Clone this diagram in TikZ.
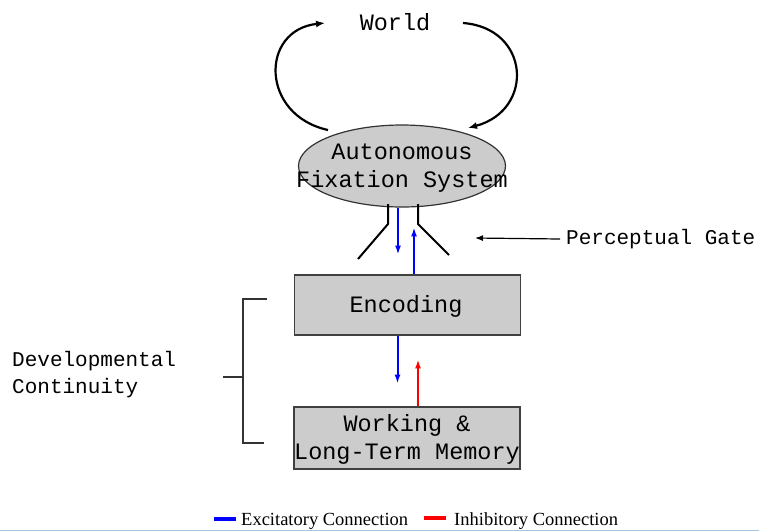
\documentclass[tikz,border=0pt]{standalone}
\usepackage{fontspec}
\setmainfont{Liberation Serif}
\newfontfamily\monofam{Liberation Mono}
\usetikzlibrary{arrows.meta,shapes.geometric,calc}
\definecolor{boxgray}{RGB}{204,204,204}
\definecolor{edgeblue}{RGB}{165,195,228}
\begin{document}
\begin{tikzpicture}[x=1pt,y=-1pt,
  lbl/.style={font=\monofam\fontsize{23.5}{28}\selectfont, inner sep=0pt, align=center},
  side/.style={font=\monofam\fontsize{21}{27}\selectfont, inner sep=0pt, align=left},
  boxs/.style={draw=black!75, fill=boxgray, line width=1.2pt, rectangle, inner sep=0pt},
  loop/.style={line width=2.2pt, -{Latex[length=9pt,width=7pt]}},
  excit/.style={blue, line width=2pt, -{Latex[length=9pt,width=6pt]}},
  inhib/.style={red, line width=2pt, -{Latex[length=9pt,width=6pt]}},
  gate/.style={black, line width=2pt},
  pointer/.style={black, line width=1.2pt, -{Latex[length=8pt,width=6pt]}},
  brk/.style={black!80, line width=1.2pt},
  leg/.style={font=\fontsize{18.5}{20}\selectfont, inner sep=0pt, anchor=base west},
  legline/.style={line width=4pt},
]
\useasboundingbox (0,0) rectangle (759,531);

% nodes
\node[lbl, anchor=base] (world) at (395,30) {World};
\node[ellipse, draw=black!80, fill=boxgray, line width=1.2pt, minimum width=207pt, minimum height=82pt, inner sep=0pt] (afs) at (402,166) {};
\node[lbl] (afst) at (402,168) {Autonomous\\Fixation System};
\node[boxs, minimum width=226pt, minimum height=60pt] (enc) at (407.5,305) {};
\node[lbl] (enct) at (406,306) {Encoding};
\node[boxs, minimum width=226pt, minimum height=62pt] (wm) at (407,438) {};
\node[lbl] (wmt) at (407,439) {Working \&\\Long-Term Memory};
\node[side, anchor=west] (pg) at (566,239) {Perceptual Gate};
\node[side, anchor=west] (dc) at (12,375) {Developmental\\Continuity};

% world loop
\coordinate (wl) at (325,23);
\coordinate (wr) at (463,23);
\coordinate (al) at (328,130);
\coordinate (ar) at (468,128);
\draw[loop] (al) .. controls (260,115) and (260,30) .. (wl);
\draw[loop] (wr) .. controls (530,28) and (535,110) .. (ar);

% perceptual gate
\coordinate (g1a) at (388,204);
\coordinate (g1b) at (388,224);
\coordinate (g1c) at (358,259);
\coordinate (g2a) at (418,204);
\coordinate (g2b) at (418,224);
\coordinate (g2c) at (449,255);
\draw[gate] (g1a) -- (g1b) -- (g1c);
\draw[gate] (g2a) -- (g2b) -- (g2c);
\coordinate (gtip) at (475,238);
\draw[pointer] ([xshift=-6pt]pg.west) -- (gtip);

% connections
\draw[excit] ([xshift=-4pt]afs.south) -- ++(0,47);
\draw[excit] ([xshift=6.5pt]enc.north) -- ++(0,-47);
\draw[excit] ([xshift=-10pt]enc.south) -- ++(0,48);
\draw[inhib] ([xshift=11pt]wm.north) -- ++(0,-47);

% bracket
\coordinate (bt) at (267,299);
\coordinate (bb) at (264,443);
\coordinate (bm) at (223,377);
\draw[brk] (bt) -- (243,299) -- (243,443) -- (bb);
\draw[brk] (bm) -- (243,377);

% legend
\coordinate (l1a) at (214,519);
\coordinate (l1b) at (236,519);
\coordinate (l2a) at (424,518);
\coordinate (l2b) at (446,518);
\draw[legline, blue] (l1a) -- (l1b);
\draw[legline, red] (l2a) -- (l2b);
\node[leg] (exc) at (241,525.5) {Excitatory Connection};
\node[leg] (inh) at (454,525) {Inhibitory Connection};

% bottom edge
\draw[edgeblue, line width=1pt] (0,530.5) -- (759,530.5);
\end{tikzpicture}
\end{document}
